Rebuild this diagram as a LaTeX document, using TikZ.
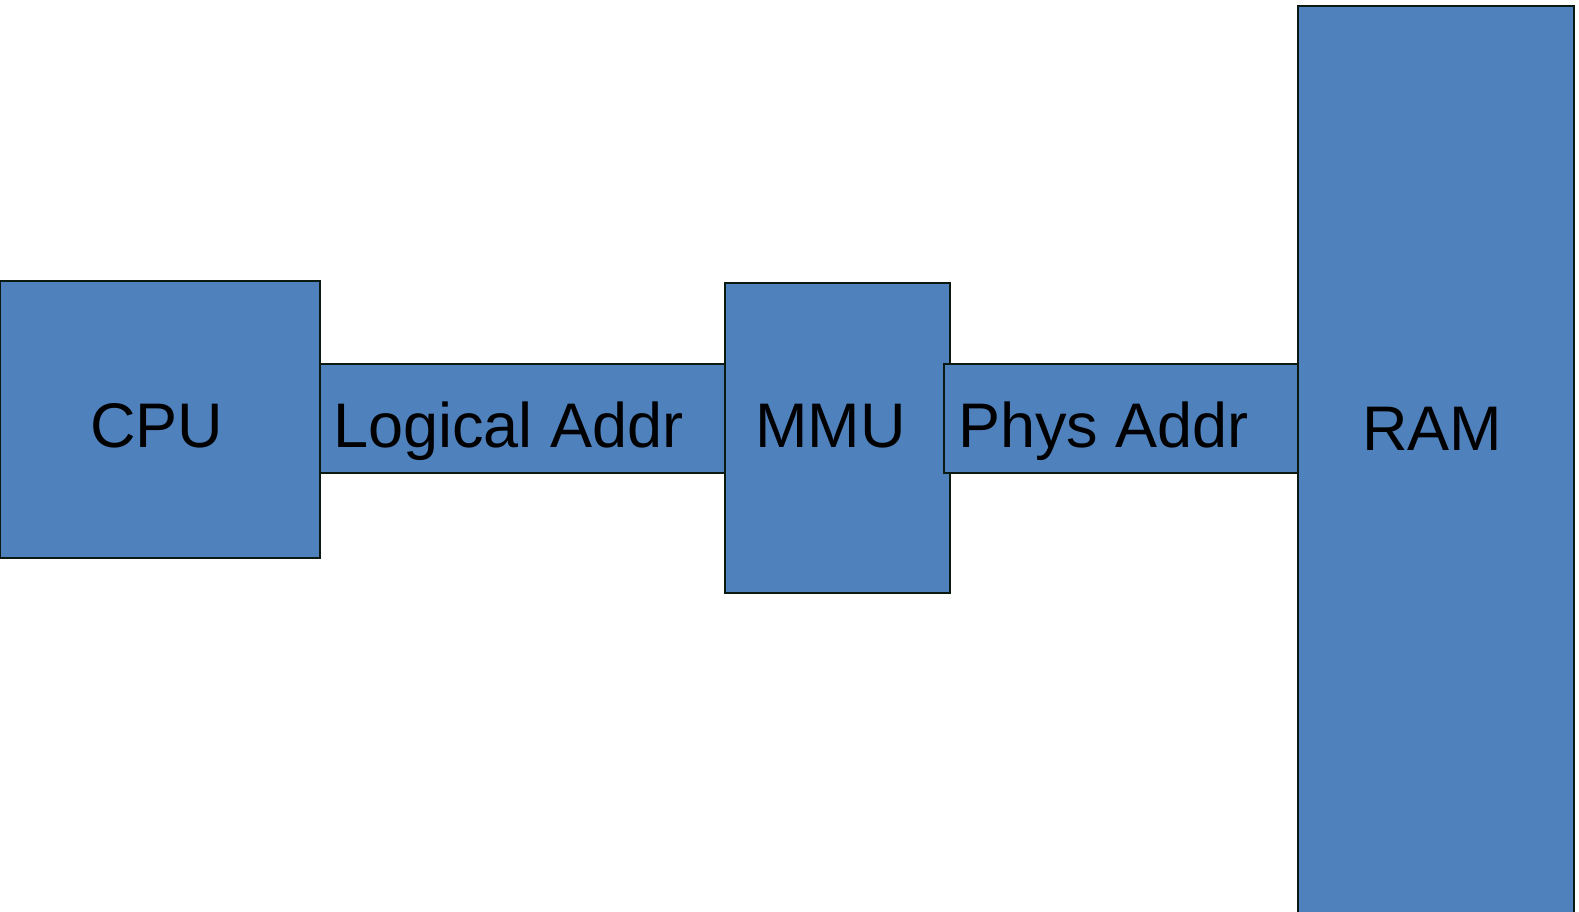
\documentclass[tikz,border=0pt]{standalone}
\usepackage{fontspec}
\setmainfont{Liberation Sans}
\definecolor{boxblue}{HTML}{4F81BD}
\definecolor{boxline}{HTML}{0B1A10}
\begin{document}
\begin{tikzpicture}[x=1pt,y=-1pt,
  blk/.style={draw=boxline,fill=boxblue,line width=2.4pt,rectangle,anchor=north west,inner sep=0pt,outer sep=0pt},
  lbl/.style={anchor=base west,inner sep=0pt,font=\fontsize{63}{70}\selectfont,text=black}]
\useasboundingbox (0,0) rectangle (1579,912);
\clip (0,0) rectangle (1579,912);
\fill[white] (0,0) rectangle (1579,912);
\node[blk,minimum width=320pt,minimum height=277pt] (cpu) at (0,281) {};
\node[blk,minimum width=405pt,minimum height=109pt] (la) at (320,364) {};
\node[blk,minimum width=225pt,minimum height=310pt] (mmu) at (725,283) {};
\node[blk,minimum width=354pt,minimum height=109pt] (pa) at (944,364) {};
\node[blk,minimum width=276pt,minimum height=910pt] (ram) at (1298,6) {};
\node[lbl] (cputxt) at (90,447) {CPU};
\node[lbl] (latxt) at (333,447) {Logical Addr};
\node[lbl] (mmutxt) at (755,447) {MMU};
\node[lbl] (patxt) at (958,447) {Phys Addr};
\node[lbl] (ramtxt) at (1362,450) {RAM};
\end{tikzpicture}
\end{document}
